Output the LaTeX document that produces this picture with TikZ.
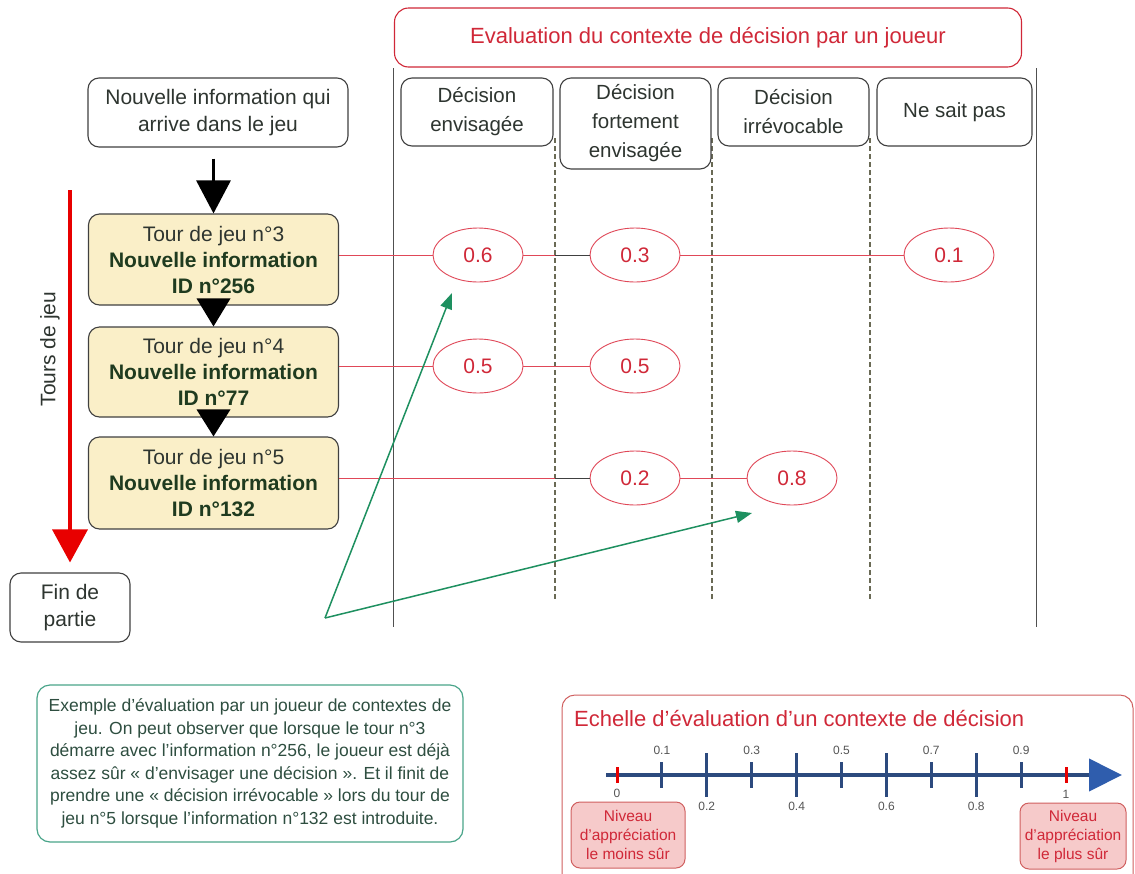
\documentclass[tikz,border=0pt]{standalone}
\usepackage{fontspec}
\setmainfont{Liberation Sans}
\usetikzlibrary{arrows.meta,shapes.geometric}
\definecolor{bord}{HTML}{404040}
\definecolor{txt}{HTML}{2E3530}
\definecolor{dgreen}{HTML}{1F3B1F}
\definecolor{yel}{HTML}{FAEFC8}
\definecolor{ered}{HTML}{D02838}
\definecolor{lred}{HTML}{E04858}
\definecolor{vgray}{HTML}{505050}
\definecolor{olive}{HTML}{6A6A55}
\definecolor{gr}{HTML}{1E9060}
\definecolor{gbord}{HTML}{4AA58A}
\definecolor{gtxt}{HTML}{2E4E40}
\definecolor{tred}{HTML}{E80000}
\definecolor{axl}{HTML}{2C4A7E}
\definecolor{axa}{HTML}{2F5DAD}
\definecolor{pinkf}{HTML}{F6CACA}
\definecolor{pinkb}{HTML}{D06060}
\definecolor{lab}{HTML}{555555}
\begin{document}
\begin{tikzpicture}[x=1pt,y=-1pt,
  box/.style={draw=bord, line width=1.1pt, rounded corners=11pt, align=center, inner sep=0pt, text=txt, font=\fontsize{21}{27}\selectfont},
  ybox/.style={box, fill=yel, font=\fontsize{21}{26}\selectfont, minimum width=250pt, minimum height=91pt},
  hbox/.style={box, font=\fontsize{20.5}{29}\selectfont},
  ell/.style={ellipse, draw=lred, line width=0.9pt, fill=white, minimum width=90pt, minimum height=54pt, inner sep=0pt, text=ered, font=\fontsize{21}{21}\selectfont},
  rline/.style={draw=lred, line width=1pt},
  dline/.style={draw=bord, line width=1pt},
  vsolid/.style={draw=vgray, line width=1pt},
  vdash/.style={draw=olive, line width=1.3pt, dash pattern=on 5pt off 3pt},
  garrow/.style={draw=gr, line width=1.5pt, -{Triangle[length=16pt,width=12pt]}},
  tick/.style={draw=axl, line width=3pt},
  rtick/.style={draw=tred, line width=3pt},
  lbl/.style={text=lab, font=\fontsize{12}{12}\selectfont, inner sep=0pt},
  pbox/.style={draw=pinkb, fill=pinkf, line width=1pt, rounded corners=9pt, align=center, inner sep=0pt, text=ered, font=\fontsize{15.5}{19}\selectfont}
]
\useasboundingbox (0,0) rectangle (1135,873);
\fill[white] (0,0) rectangle (1135,873);

% vertical lines
\coordinate (L1t) at (393,68); \coordinate (L1b) at (393,627);
\coordinate (L5t) at (1036,68); \coordinate (L5b) at (1036,627);
\coordinate (D2t) at (555,138); \coordinate (D2b) at (555,600);
\coordinate (D3t) at (712,138); \coordinate (D3b) at (712,600);
\coordinate (D4t) at (870,138); \coordinate (D4b) at (870,600);
\draw[vsolid] (L1t) -- (L1b);
\draw[vsolid] (L5t) -- (L5b);
\draw[vdash] (D2t) -- (D2b);
\draw[vdash] (D3t) -- (D3b);
\draw[vdash] (D4t) -- (D4b);

% title
\node[box, draw=ered, text=ered, font=\fontsize{22}{22}\selectfont, minimum width=627pt, minimum height=59pt, rounded corners=14pt] (title) at (708,37.5) {Evaluation du contexte de décision par un joueur};

% headers
\node[hbox, fill=white, minimum width=152pt, minimum height=68pt] (h1) at (477,112) {Décision\\envisagée};
\node[hbox, fill=white, minimum width=151pt, minimum height=91pt] (h2) at (635.5,123.5) {Décision\\fortement\\envisagée};
\node[hbox, fill=white, minimum width=151pt, minimum height=68pt] (h3) at (793.5,112) {Décision\\irrévocable};
\node[hbox, fill=white, minimum width=155pt, minimum height=68pt] (h4) at (954.5,112) {Ne sait pas};

% left column
\node[box, minimum width=260pt, minimum height=69pt] (nw) at (218,112.5) {Nouvelle information qui\\arrive dans le jeu};
\node[ybox] (t3) at (213.5,259.5) {Tour de jeu n°3\\\textcolor{dgreen}{\textbf{Nouvelle information}}\\\textcolor{dgreen}{\textbf{ID n°256}}};
\node[ybox, minimum height=90pt] (t4) at (213.5,372) {Tour de jeu n°4\\\textcolor{dgreen}{\textbf{Nouvelle information}}\\\textcolor{dgreen}{\textbf{ID n°77}}};
\node[ybox, minimum height=92pt] (t5) at (213.5,483) {Tour de jeu n°5\\\textcolor{dgreen}{\textbf{Nouvelle information}}\\\textcolor{dgreen}{\textbf{ID n°132}}};
\node[box, minimum width=120pt, minimum height=69pt] (fin) at (70,607.5) {Fin de\\partie};

% black arrows
\draw[black, line width=3pt, -{Triangle[length=33pt,width=34pt]}, shorten <=11pt] (t3.north |- nw.south) -- (t3.north);
\fill[black] (t4.north) -- ++(-17,-28) -- ++(34,0) -- cycle;
\fill[black] (t5.north) -- ++(-17,-27) -- ++(34,0) -- cycle;

% red time arrow
\coordinate (rtop) at (70,190);
\draw[tred, line width=3.5pt, -{Triangle[length=33pt,width=35pt]}, shorten >=10pt] (rtop) -- (fin.north);
\node[rotate=90, text=txt, font=\fontsize{21}{21}\selectfont, inner sep=0pt] (tours) at (50,349) {Tours de jeu};

% ellipses
\node[ell] (e06) at (478,255) {0.6};
\node[ell] (e03) at (635,255) {0.3};
\node[ell] (e01) at (949,255) {0.1};
\node[ell] (e05a) at (478,366) {0.5};
\node[ell] (e05b) at (635,366) {0.5};
\node[ell] (e02) at (635,478) {0.2};
\node[ell] (e08) at (792,478) {0.8};

% red connectors
\draw[rline] (t3.east |- e06.west) -- (e06.west);
\draw[rline] (e06.east) -- (e03.west);
\draw[dline] (D2t |- e03.west) -- (e03.west);
\draw[rline] (e03.east) -- (e01.west);
\draw[rline] (t4.east |- e05a.west) -- (e05a.west);
\draw[rline] (e05a.east) -- (e05b.west);
\draw[rline] (t5.east |- e02.west) -- (e02.west);
\draw[dline] (D2t |- e02.west) -- (e02.west);
\draw[rline] (e02.east) -- (e08.west);

% green arrows
\coordinate (gv) at (325,618);
\coordinate (g1) at (452,293);
\coordinate (g2) at (752,513);
\draw[garrow] (gv) -- (g1);
\draw[garrow] (gv) -- (g2);

% explanation box
\node[box, draw=gbord, line width=1.2pt, rounded corners=13pt, text=gtxt, font=\fontsize{17.5}{22.5}\selectfont, minimum width=426pt, minimum height=157pt] (expl) at (250,763.5) {Exemple d’évaluation par un joueur de contextes de\\jeu. On peut observer que lorsque le tour n°3\\démarre avec l’information n°256, le joueur est déjà\\assez sûr « d’envisager une décision ». Et il finit de\\prendre une « décision irrévocable » lors du tour de\\jeu n°5 lorsque l’information n°132 est introduite.};

% scale box
\node[draw=pinkb, line width=1pt, rounded corners=13pt, minimum width=571pt, minimum height=200pt, inner sep=0pt] (scalebox) at (847.5,795) {};
\node[anchor=west, text=ered, font=\fontsize{22}{22}\selectfont, inner sep=0pt] (stitle) at (574,718) {Echelle d’évaluation d’un contexte de décision};
\coordinate (ax0) at (606,775);
\coordinate (ax1) at (1122,775);
\draw[axl, line width=4pt, -{Triangle[length=33pt,width=32pt,color=axa]}] (ax0) -- (ax1);
\foreach \i in {1,3,5,7,9} {
  \draw[tick] ({617+44.9*\i},762) -- ({617+44.9*\i},788);
  \node[lbl] at ({617+44.9*\i},750) {0.\i};
}
\foreach \i in {2,4,6,8} {
  \draw[tick] ({617+44.9*\i},753) -- ({617+44.9*\i},797);
  \node[lbl] at ({617+44.9*\i},806) {0.\i};
}
\draw[rtick] (617,767) -- (617,783);
\draw[rtick] (1066,767) -- (1066,783);
\node[lbl] at (617,793) {0};
\node[lbl] at (1066,794) {1};
\node[pbox, minimum width=114pt, minimum height=66pt] (pl) at (628,835) {Niveau\\d’appréciation\\le moins sûr};
\node[pbox, minimum width=106pt, minimum height=66pt] (pr) at (1073,836) {Niveau\\d’appréciation\\le plus sûr};
\end{tikzpicture}
\end{document}
